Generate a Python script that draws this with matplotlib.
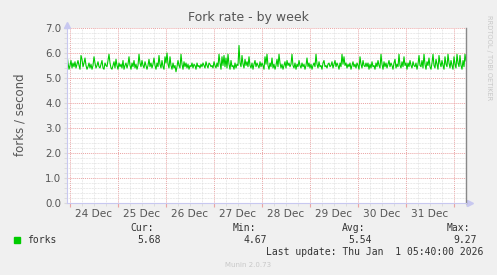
import numpy as np
import matplotlib
matplotlib.use('Agg')
import matplotlib.pyplot as plt
from matplotlib.ticker import FixedLocator, MultipleLocator, NullFormatter

# Dados - forks por segundo, um ponto a cada 30 min (dias desde 24 Dec 00:00)
forks = [
    5.95, 5.6, 5.35, 5.5, 5.7, 5.4, 5.6, 5.45, 5.65, 5.4, 5.55, 5.7, 5.5, 5.35, 5.9, 5.75, 5.45, 5.6, 5.8, 5.5,
    5.35, 5.45, 5.6, 5.4, 5.55, 5.35, 5.5, 5.85, 5.6, 5.4, 5.5, 5.65, 5.45, 5.4, 5.55, 5.7, 5.4, 5.35, 5.6, 5.5,
    5.45, 5.7, 5.95, 5.6, 5.4, 5.35, 5.5, 5.65, 5.4, 5.75, 5.5, 5.35, 5.6, 5.45, 5.55, 5.4, 5.7, 5.35, 5.5, 5.6,
    5.4, 5.55, 5.85, 5.5, 5.35, 5.6, 5.45, 5.7, 5.4, 5.55, 5.35, 5.5, 5.95, 5.6, 5.45, 5.7, 5.5, 5.4, 5.65, 5.5,
    5.35, 5.5, 5.75, 5.45, 5.6, 5.4, 5.55, 5.8, 5.5, 5.35, 5.6, 5.45, 5.9, 5.55, 5.4, 5.7, 5.45, 5.35, 5.85, 5.6,
    6.0, 5.55, 5.4, 5.85, 5.5, 5.35, 5.6, 5.4, 5.5, 5.25, 5.45, 5.7, 5.5, 5.4, 5.95, 5.55, 5.35, 5.65, 5.45, 5.6,
    5.4, 5.55, 5.35, 5.5, 5.45, 5.6, 5.4, 5.55, 5.5, 5.35, 5.6, 5.45, 5.5, 5.4, 5.55, 5.45, 5.6, 5.5, 5.4, 5.65,
    5.5, 5.4, 5.6, 5.55, 5.45, 5.5, 5.4, 5.65, 5.5, 5.4, 5.6, 5.45, 5.95, 5.6, 5.35, 5.85, 5.5, 5.9, 5.45, 5.8,
    5.4, 5.95, 5.55, 5.35, 5.7, 5.45, 5.5, 5.35, 5.6, 5.4, 5.55, 5.5, 6.3, 5.6, 5.45, 5.9, 5.55, 5.4, 5.75, 5.5,
    5.65, 5.45, 5.85, 5.5, 5.4, 5.6, 5.35, 5.55, 5.7, 5.45, 5.6, 5.5, 5.4, 5.65, 5.45, 5.6, 5.5, 5.35, 5.85, 5.55,
    5.95, 5.5, 5.35, 5.6, 5.45, 5.8, 5.4, 5.55, 5.35, 5.5, 5.75, 5.45, 5.95, 5.6, 5.4, 5.55, 5.35, 5.5, 5.65, 5.4,
    5.7, 5.5, 5.6, 5.45, 5.55, 5.95, 5.5, 5.4, 5.6, 5.35, 5.55, 5.45, 5.7, 5.5, 5.4, 5.6, 5.45, 5.55, 5.35, 5.5,
    5.8, 5.45, 5.6, 5.4, 5.55, 5.35, 5.5, 5.6, 5.45, 5.95, 5.55, 5.4, 5.65, 5.45, 5.5, 5.35, 5.6, 5.7, 5.45, 5.5,
    5.4, 5.55, 5.6, 5.45, 5.5, 5.65, 5.4, 5.55, 5.7, 5.45, 5.6, 5.5, 5.35, 5.6, 5.45, 5.95, 5.55, 5.85, 5.5, 5.6,
    5.4, 5.55, 5.45, 5.6, 5.35, 5.5, 5.65, 5.45, 5.55, 5.4, 5.6, 5.5, 5.35, 5.85, 5.55, 5.4, 5.7, 5.5, 5.45, 5.6,
    5.45, 5.6, 5.35, 5.55, 5.4, 5.65, 5.45, 5.5, 5.35, 5.6, 5.45, 5.7, 5.5, 5.4, 5.95, 5.55, 5.35, 5.65, 5.45, 5.6,
    5.4, 5.55, 5.7, 5.45, 5.6, 5.5, 5.35, 5.6, 5.75, 5.4, 5.55, 5.45, 5.95, 5.5, 5.4, 5.65, 5.45, 5.85, 5.5, 5.6,
    5.35, 5.6, 5.45, 5.7, 5.5, 5.4, 5.65, 5.5, 5.45, 5.6, 5.35, 5.55, 5.9, 5.5, 5.45, 5.7, 5.4, 5.95, 5.55, 5.35,
    5.65, 5.5, 5.8, 5.45, 5.35, 5.6, 5.95, 5.5, 5.4, 5.75, 5.55, 5.35, 5.9, 5.6, 5.45, 5.7, 5.5, 5.35, 5.85, 5.55,
    5.45, 5.95, 5.6, 5.4, 5.7, 5.5, 5.35, 5.85, 5.55, 5.4, 5.95, 5.6, 5.45, 5.9, 5.5, 5.35, 5.7, 5.45, 5.95, 5.68,
]
day_labels = ['24 Dec', '25 Dec', '26 Dec', '27 Dec', '28 Dec', '29 Dec', '30 Dec', '31 Dec']
y_labels = ['0.0', '1.0', '2.0', '3.0', '4.0', '5.0', '6.0', '7.0']
stats_names = ['Cur:', 'Min:', 'Avg:', 'Max:']
stats_values = ['5.68', '4.67', '5.54', '9.27']

# eixo x em dias; inicio 1.5 h antes de 24 Dec 00:00
t0 = -1.5 / 24
times = t0 + np.arange(len(forks)) / 48.0

W, H = 497, 275
fig = plt.figure(figsize=(W / 100, H / 100), dpi=100, facecolor='#f0f0f0')
ax = fig.add_axes([67 / W, 72 / H, 399 / W, 175 / H])
ax.set_facecolor('white')

ax.set_xlim(t0, 8.25)
ax.set_ylim(0, 7)

# grade menor (cinza) e maior (vermelha)
ax.xaxis.set_minor_locator(MultipleLocator(0.25))
ax.yaxis.set_minor_locator(MultipleLocator(0.2))
ax.xaxis.set_major_locator(FixedLocator(range(0, 9)))
ax.yaxis.set_major_locator(FixedLocator(range(0, 8)))
ax.grid(which='minor', color='#dadada', linestyle=(0, (1, 1)), linewidth=0.55)
ax.grid(which='major', color='#eaa4a4', linestyle=(0, (1, 1)), linewidth=0.7)
ax.set_axisbelow(True)

ax.set_xticklabels([])
ax.xaxis.set_minor_formatter(NullFormatter())
ax.tick_params(axis='x', which='major', length=3, color='#eaa4a4', pad=2)
ax.tick_params(axis='x', which='minor', length=2, color='#dadada')
ax.tick_params(axis='y', which='both', length=2, color='#dadada', labelsize=7.4,
               labelcolor='#555555', pad=2)
ax.set_yticklabels(y_labels)
for i, lab in enumerate(day_labels):
    ax.text(i + 0.5, -0.25, lab, ha='center', va='top', fontsize=7.6, color='#555555')

ax.spines['top'].set_visible(False)
ax.spines['right'].set_color('#888888')
ax.spines['right'].set_linewidth(1.0)
ax.spines['left'].set_color('#c8c8f0')
ax.spines['bottom'].set_color('#c8c8f0')

# setas dos eixos
ax.plot([t0], [7.12], marker='^', color='#c8c8f0', markersize=4, clip_on=False)
ax.plot([8.33], [0], marker='>', color='#c8c8f0', markersize=4, clip_on=False)

ax.plot(times, forks, color='#00cc00', linewidth=0.8)

# textos
fig.text(248 / W, 1 - 18 / H, 'Fork rate - by week', ha='center', va='center',
         fontsize=9, color='#555555')
fig.text(20 / W, 1 - 115 / H, 'forks / second', ha='center', va='center',
         rotation=90, fontsize=8.5, color='#555555')
fig.text(489 / W, 1 - 58 / H, 'RRDTOOL / TOBI OETIKER', ha='center', va='center',
         rotation=270, fontsize=4.8, color='#c8c8c8')

# legenda
fig.patches.append(plt.Rectangle((14 / W, 1 - 243 / H), 6 / W, 6 / H,
                                 transform=fig.transFigure, color='#00cc00'))
mono = 'DejaVu Sans Mono'
fig.text(27 / W, 1 - 240 / H, 'forks', ha='left', va='center', family=mono,
         fontsize=7, color='#333333')
name_right = [154, 256, 365, 470]
val_right = [161, 267, 372, 477]
for nm, val, xn, xv in zip(stats_names, stats_values, name_right, val_right):
    fig.text(xn / W, 1 - 228 / H, nm, ha='right', va='center', family=mono,
             fontsize=7, color='#333333')
    fig.text(xv / W, 1 - 240 / H, val, ha='right', va='center', family=mono,
             fontsize=7, color='#333333')
fig.text(483 / W, 1 - 252 / H, 'Last update: Thu Jan  1 05:40:00 2026', ha='right',
         va='center', family=mono, fontsize=7, color='#333333')
fig.text(248 / W, 1 - 265 / H, 'Munin 2.0.73', ha='center', va='center',
         fontsize=5, color='#c8c8c8')

fig.savefig('out.png', dpi=100, facecolor=fig.get_facecolor())
